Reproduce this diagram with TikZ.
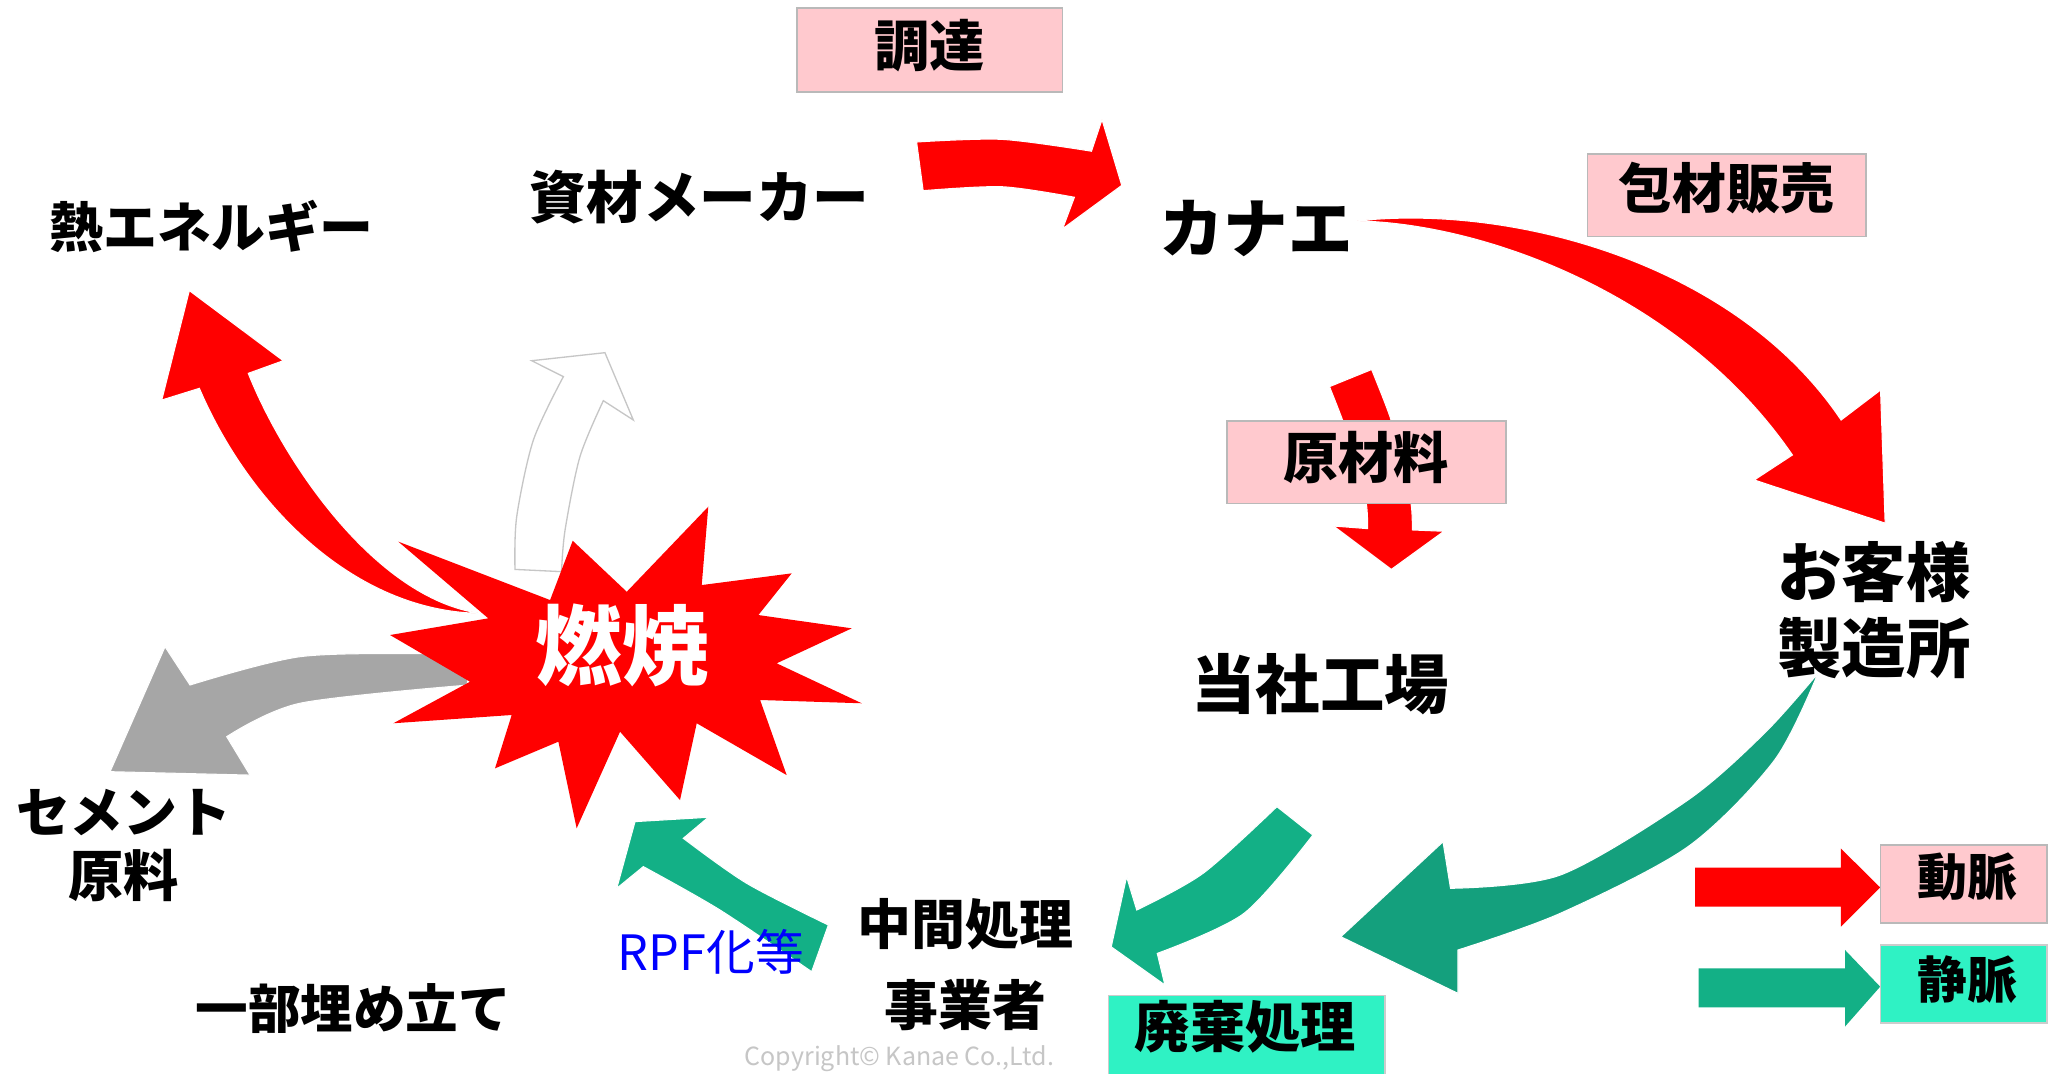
\documentclass[tikz,border=0pt]{standalone}
\usepackage{fontspec}
\setmainfont{Noto Sans CJK JP}
\newcommand\fsz[1]{\fontsize{#1}{#1}\selectfont}
\definecolor{flowred}{HTML}{FF0000}
\definecolor{flowgreen}{HTML}{13B086}
\definecolor{flowgreendk}{HTML}{14A07D}
\definecolor{flowgray}{HTML}{A6A6A6}
\definecolor{boxpink}{HTML}{FFC9CE}
\definecolor{boxgreen}{HTML}{2FF2C4}
\tikzset{
  lbl/.style={inner sep=0pt, text=black},
  bigtxt/.style={lbl, font=\bfseries\fsz{24.5pt}},
  midtxt/.style={lbl, font=\bfseries\fsz{20.5pt}},
  pinkbox/.style={fill=boxpink, draw=gray!55, line width=0.6pt},
  greenbox/.style={fill=boxgreen, draw=gray!40, line width=0.6pt},
  redflow/.style={fill=flowred, draw=white, line width=0.4pt},
  greenflow/.style={fill=flowgreen, draw=white, line width=0.4pt},
}
\begin{document}
\begin{tikzpicture}[x=0.5pt,y=-0.5pt]
\useasboundingbox (0,0) rectangle (1568,816.7);
\begin{scope}
\clip (0,0) rectangle (1568,816.7);
\fill[white] (0,0) rectangle (1568,816.7);

% --- procurement arrow (資材メーカー -> カナエ)
\path[redflow] plot[smooth] coordinates {(697,108) (762,106) (830,115)}
  -- (838,91) -- (853,141) -- (808,174)
  -- plot[smooth] coordinates {(817,150) (762,142) (702,145)} -- cycle;

% --- sales arrow (カナエ -> お客様)
\path[redflow] (1032,168) .. controls (1150,155) and (1320,200) .. (1400,319.4)
  -- (1430,296.6) -- (1433.5,397.8) -- (1334,365) -- (1363,346)
  .. controls (1280,225) and (1130,170) .. (1032,168) -- cycle;

% --- raw material arrow (カナエ -> 当社工場)
\path[redflow] plot[smooth] coordinates {(1011,294) (1020,317) (1032,350) (1039,383) (1040,402)}
  -- (1014,400) -- (1058,433) -- (1098,404)
  -- plot[smooth] coordinates {(1074,403) (1073,383) (1066,350) (1057,317) (1043,281)} -- cycle;

% --- heat energy arrow
\path[redflow] (365,466.4) .. controls (270,465) and (190,385) .. (151.6,295.3)
  -- (123,304.2) -- (144,221) -- (215.4,274.3) -- (188.8,283.9)
  .. controls (215,350) and (285,455) .. (365,466.4) -- cycle;

% --- white outlined arrow
\path[fill=white, draw=gray!45, line width=0.5pt]
  plot[smooth] coordinates {(391.6,433) (392.9,393) (405.6,334.6) (428.4,286.4)}
  -- (404.3,274.3) -- (460,268.2) -- (481.6,319.4)
  -- plot[smooth] coordinates {(458.8,304.7) (441,347.3) (429.7,403) (427,434.7)} -- cycle;

% --- gray arrow (cement)
\path[fill=flowgray, draw=white, line width=0.4pt]
  plot[smooth] coordinates {(144.5,520.9) (228,499.4) (327,496.9) (360,497)}
  -- (355,521)
  -- plot[smooth] coordinates {(355,521) (228,534.8) (172.4,560.2)}
  -- (190.1,589.4) -- (83.7,586.8) -- (125.5,491.8) -- cycle;

% --- burst
\path[fill=flowred] (302.9,411.9) -- (418.3,456.3) -- (435.5,411.2) -- (476.6,450)
  -- (538.6,385.3) -- (533.6,444.9) -- (602,436) -- (576.7,467.7) -- (647.7,477.8)
  -- (590.6,504.4) -- (655.3,534.8) -- (578,532.3) -- (598.2,589.4) -- (529.8,550)
  -- (517.1,608.4) -- (471.5,556.4) -- (438.5,629.9) -- (424.6,564) -- (376.4,584.3)
  -- (389.1,543.7) -- (299.1,550) -- (357.4,518.4) -- (296.6,482.9) -- (371.3,470.2) -- cycle;
\node[lbl, text=white, font=\bfseries\fsz{33pt}] (burn) at (473,491) {燃焼};

% --- green arrows
\path[greenflow] plot[smooth] coordinates {(629.9,703.4) (567.8,671.7) (519.6,637.5)}
  -- (538.6,621.5) -- (482.9,624.8) -- (469,675.5)
  -- plot[smooth] coordinates {(489.2,659) (547.5,692) (617.2,738.9)} -- cycle;

\path[greenflow] plot[smooth] coordinates {(971,613.4) (915,664) (864.4,692)}
  -- (856.7,666.7) -- (845,720) -- (885.8,749)
  -- plot[smooth] coordinates {(880,725) (946,694.5) (998.3,635)} -- cycle;

\path[fill=flowgreendk, draw=white, line width=0.4pt]
  plot[smooth] coordinates {(1382.4,512) (1349.4,578) (1283.5,643.9) (1186.5,694.5) (1108.7,722.4)}
  -- (1108.7,755.4) -- (1019.6,712.3) -- (1097.3,640.1)
  -- plot[smooth] coordinates {(1103,675.5) (1186.5,665.4) (1283.5,608.4) (1341.7,557.6) (1382.4,512)} -- cycle;

% --- label boxes
\path[pinkbox] (606,6) rectangle (808,70);
\node[midtxt, font=\bfseries\fsz{21pt}] (chotatsu) at (707,35) {調達};
\path[pinkbox] (1207,117) rectangle (1419,180);
\node[midtxt] (hanbai) at (1313,143) {包材販売};
\path[pinkbox] (933,320) rectangle (1145,383);
\node[midtxt, font=\bfseries\fsz{21pt}] (genzai) at (1039,348) {原材料};
\path[greenbox] (843,757) rectangle (1053,840);
\node[midtxt, font=\bfseries\fsz{21pt}] (haiki) at (947,781) {廃棄処理};

% --- main labels
\node[midtxt, font=\bfseries\fsz{21.5pt}] (maker) at (532,150) {資材メーカー};
\node[midtxt] (heat) at (161,172) {熱エネルギー};
\node[bigtxt] (kanae) at (955,174) {カナエ};
\node[bigtxt] (cust1) at (1425,435) {お客様};
\node[bigtxt] (cust2) at (1425,493) {製造所};
\node[bigtxt] (factory) at (1004,520) {当社工場};
\node[midtxt] (cement1) at (94.5,617.5) {セメント};
\node[midtxt, font=\bfseries\fsz{21pt}] (cement2) at (94,666) {原料};
\node[midtxt, font=\bfseries\fsz{20pt}] (landfill) at (268.7,767) {一部埋め立て};
\node[midtxt] (inter1) at (734,702.7) {中間処理};
\node[midtxt] (inter2) at (734,764) {事業者};
\node[lbl, text=blue, font=\fsz{18.5pt}] (rpf) at (540.6,723.7) {RPF化等};

% --- legend
\path[fill=flowred] (1289,659.8) -- (1399.8,659.8) -- (1399.8,645.2) -- (1429.7,674.8)
  -- (1399.8,704.7) -- (1399.8,689.5) -- (1289,689.5) -- cycle;
\path[fill=flowgreen] (1291.6,736.3) -- (1403,736.3) -- (1403,722.4) -- (1429.7,750.3)
  -- (1403,780.6) -- (1403,766) -- (1291.6,766) -- cycle;
\path[pinkbox] (1430,642.6) rectangle (1556.4,702);
\node[lbl, font=\bfseries\fsz{19pt}] (domyaku) at (1496,667) {動脈};
\path[greenbox] (1430,718.6) rectangle (1556.4,778.1);
\node[lbl, font=\bfseries\fsz{19pt}] (jomyaku) at (1496,745) {静脈};

% --- copyright
\node[lbl, text=gray!45, font=\fsz{9.5pt}, anchor=south] (copyright) at (684,815.5) {Copyright© Kanae Co.,Ltd.};
\end{scope}
\end{tikzpicture}
\end{document}
